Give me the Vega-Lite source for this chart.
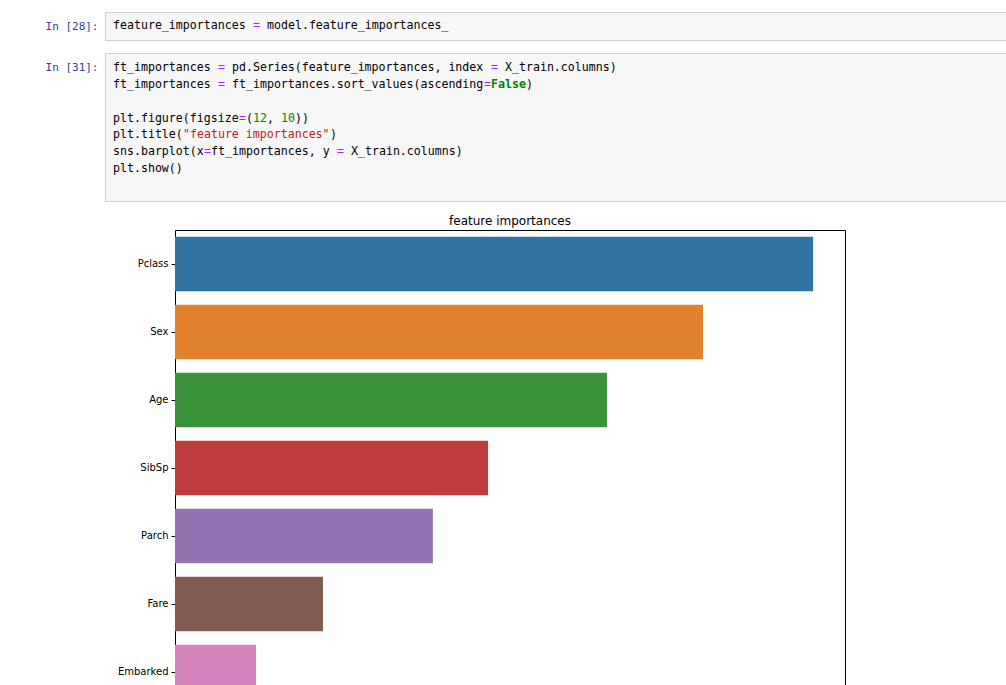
{
  "$schema": "https://vega.github.io/schema/vega-lite/v6.json",
  "padding": {"left": 44, "top": 11, "right": 0, "bottom": 0},
  "background": "white",
  "config": {"view": {"stroke": null}},
  "datasets": {
    "code": [
      {"cell": 28, "line": 1, "col": 0, "text": "feature_importances", "kind": "plain"},
      {"cell": 28, "line": 1, "col": 20, "text": "=", "kind": "op"},
      {"cell": 28, "line": 1, "col": 22, "text": "model.feature_importances_", "kind": "plain"},
      {"cell": 31, "line": 1, "col": 0, "text": "ft_importances", "kind": "plain"},
      {"cell": 31, "line": 1, "col": 15, "text": "=", "kind": "op"},
      {"cell": 31, "line": 1, "col": 17, "text": "pd.Series(feature_importances, index", "kind": "plain"},
      {"cell": 31, "line": 1, "col": 54, "text": "=", "kind": "op"},
      {"cell": 31, "line": 1, "col": 56, "text": "X_train.columns)", "kind": "plain"},
      {"cell": 31, "line": 2, "col": 0, "text": "ft_importances", "kind": "plain"},
      {"cell": 31, "line": 2, "col": 15, "text": "=", "kind": "op"},
      {"cell": 31, "line": 2, "col": 17, "text": "ft_importances.sort_values(ascending", "kind": "plain"},
      {"cell": 31, "line": 2, "col": 53, "text": "=", "kind": "op"},
      {"cell": 31, "line": 2, "col": 54, "text": "False", "kind": "kw"},
      {"cell": 31, "line": 2, "col": 59, "text": ")", "kind": "plain"},
      {"cell": 31, "line": 4, "col": 0, "text": "plt.figure(figsize", "kind": "plain"},
      {"cell": 31, "line": 4, "col": 18, "text": "=", "kind": "op"},
      {"cell": 31, "line": 4, "col": 19, "text": "(", "kind": "plain"},
      {"cell": 31, "line": 4, "col": 20, "text": "12", "kind": "num"},
      {"cell": 31, "line": 4, "col": 22, "text": ",", "kind": "plain"},
      {"cell": 31, "line": 4, "col": 24, "text": "10", "kind": "num"},
      {"cell": 31, "line": 4, "col": 26, "text": "))", "kind": "plain"},
      {"cell": 31, "line": 5, "col": 0, "text": "plt.title(", "kind": "plain"},
      {"cell": 31, "line": 5, "col": 10, "text": "\"feature importances\"", "kind": "str"},
      {"cell": 31, "line": 5, "col": 31, "text": ")", "kind": "plain"},
      {"cell": 31, "line": 6, "col": 0, "text": "sns.barplot(x", "kind": "plain"},
      {"cell": 31, "line": 6, "col": 13, "text": "=", "kind": "op"},
      {"cell": 31, "line": 6, "col": 14, "text": "ft_importances, y", "kind": "plain"},
      {"cell": 31, "line": 6, "col": 32, "text": "=", "kind": "op"},
      {"cell": 31, "line": 6, "col": 34, "text": "X_train.columns)", "kind": "plain"},
      {"cell": 31, "line": 7, "col": 0, "text": "plt.show()", "kind": "plain"}
    ],
    "imp": [
      {"feature": "Pclass", "importance": 0.2660},
      {"feature": "Sex", "importance": 0.2201},
      {"feature": "Age", "importance": 0.1801},
      {"feature": "SibSp", "importance": 0.1305},
      {"feature": "Parch", "importance": 0.1075},
      {"feature": "Fare", "importance": 0.0617},
      {"feature": "Embarked", "importance": 0.0338}
    ]
  },
  "spacing": 12,
  "resolve": {"scale": {"color": "independent", "x": "independent", "y": "independent"}},
  "vconcat": [
    {
      "spacing": 11,
      "resolve": {"scale": {"color": "independent", "x": "independent", "y": "independent"}},
      "vconcat": [
        {
          "width": 901,
          "height": 28,
          "view": {"fill": "#f7f7f7", "stroke": "#cfcfcf"},
          "data": {"name": "code"},
          "transform": [{"filter": "datum.cell == 28"}],
          "mark": {"type": "text", "align": "left", "baseline": "middle", "font": "DejaVu Sans Mono", "fontSize": 11.6},
          "encoding": {
            "x": {"field": "col", "type": "quantitative", "scale": {"domain": [-1.142857, 127.571]}, "axis": null},
            "y": {"field": "line", "type": "ordinal", "scale": {"domain": [1], "padding": 0.5},
              "axis": {"title": null, "domain": false, "ticks": false, "grid": false, "labelPadding": 7, "labelFont": "DejaVu Sans Mono", "labelFontSize": 11, "labelColor": "#303f9f", "labelExpr": "'In [28]:'"}},
            "text": {"field": "text"},
            "color": {"field": "kind", "type": "nominal", "scale": {"domain": ["plain", "op", "num", "str", "kw"], "range": ["#000000", "#aa22ff", "#008800", "#ba2121", "#008000"]}, "legend": null}
          }
        },
        {
          "width": 901,
          "height": 148,
          "view": {"fill": "#f7f7f7", "stroke": "#cfcfcf"},
          "data": {"name": "code"},
          "transform": [{"filter": "datum.cell == 31"}],
          "encoding": {
            "x": {"field": "col", "type": "quantitative", "scale": {"domain": [-1.142857, 127.571]}, "axis": null},
            "y": {"field": "line", "type": "ordinal", "scale": {"domain": [1, 2, 3, 4, 5, 6, 7, 8], "padding": 0.853},
              "axis": {"title": null, "domain": false, "ticks": false, "grid": false, "values": [1], "labelPadding": 7, "labelFont": "DejaVu Sans Mono", "labelFontSize": 11, "labelColor": "#303f9f", "labelExpr": "'In [31]:'"}},
            "text": {"field": "text"},
            "color": {"field": "kind", "type": "nominal", "scale": {"domain": ["plain", "op", "num", "str", "kw"], "range": ["#000000", "#aa22ff", "#008800", "#ba2121", "#008000"]}, "legend": null}
          },
          "layer": [
            {
              "transform": [{"filter": "datum.kind != 'kw'"}],
              "mark": {"type": "text", "align": "left", "baseline": "middle", "font": "DejaVu Sans Mono", "fontSize": 11.6}
            },
            {
              "transform": [{"filter": "datum.kind == 'kw'"}],
              "mark": {"type": "text", "align": "left", "baseline": "middle", "font": "DejaVu Sans Mono", "fontSize": 11.6, "fontWeight": "bold"}
            }
          ]
        }
      ]
    },
    {
      "spacing": 0,
      "hconcat": [
        {
          "width": 9,
          "height": 1,
          "data": {"values": []},
          "mark": {"type": "point", "opacity": 0},
          "encoding": {}
        },
        {
          "width": 670,
          "height": 476,
          "title": {"text": "feature importances", "font": "DejaVu Sans", "fontSize": 12, "fontWeight": "normal", "color": "#000000", "frame": "group", "anchor": "middle", "offset": 2},
          "view": {"stroke": "#000000", "strokeWidth": 1, "fill": "white"},
          "data": {"name": "imp"},
          "mark": {"type": "bar"},
          "encoding": {
            "y": {"field": "feature", "type": "nominal", "sort": null, "scale": {"paddingInner": 0.2, "paddingOuter": 0.1},
              "axis": {"title": null, "domain": false, "tickSize": 4, "tickColor": "#000000", "labelPadding": 3, "labelFont": "DejaVu Sans", "labelFontSize": 10, "labelColor": "#000000", "minExtent": 60}},
            "x": {"field": "importance", "type": "quantitative", "scale": {"domain": [0, 0.2793], "nice": false},
              "axis": {"title": null, "grid": false, "domain": false, "tickColor": "#000000", "tickSize": 4, "labelFont": "DejaVu Sans", "labelFontSize": 10, "labelColor": "#000000", "values": [0, 0.05, 0.1, 0.15, 0.2, 0.25], "format": ".2f"}},
            "color": {"field": "feature", "type": "nominal", "sort": null,
              "scale": {"domain": ["Pclass", "Sex", "Age", "SibSp", "Parch", "Fare", "Embarked"], "range": ["#3274a1", "#e1812c", "#3a923a", "#c03d3e", "#9372b2", "#845b53", "#d684bd"]},
              "legend": null}
          }
        }
      ]
    }
  ]
}
